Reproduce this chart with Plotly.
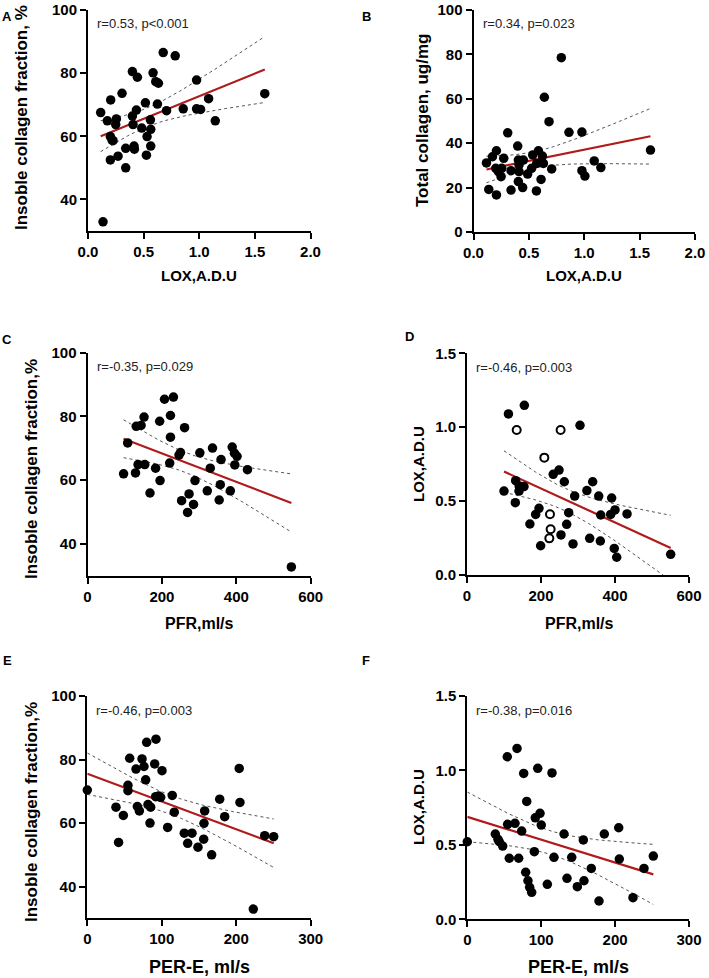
import numpy as np
import plotly.graph_objects as go

# ---- data ----
lox_a = [0.114, 0.135, 0.174, 0.204, 0.201, 0.216, 0.225, 0.201, 0.255, 0.249, 0.270, 0.306, 0.339, 0.339,
         0.399, 0.444, 0.399, 0.435, 0.405, 0.414, 0.417, 0.483, 0.516, 0.531, 0.525, 0.561, 0.564, 0.564,
         0.585, 0.609, 0.633, 0.624, 0.676, 0.706, 0.784, 0.856, 0.976, 0.976, 1.012, 1.084, 1.144, 1.589]
insol_a = [67.5, 32.9, 64.9, 71.5, 59.9, 58.8, 58.6, 52.5, 65.5, 63.7, 53.7, 73.6, 56.2, 50.0,
           80.5, 78.7, 66.4, 68.3, 63.7, 56.9, 55.9, 62.6, 70.6, 59.9, 54.0, 65.2, 62.2, 56.9,
           80.1, 77.3, 76.8, 70.2, 86.5, 68.1, 85.5, 68.7, 77.8, 68.7, 68.5, 71.9, 64.9, 73.5]

lox_b = [0.117, 0.138, 0.207, 0.171, 0.207, 0.201, 0.225, 0.249, 0.255, 0.273, 0.309, 0.339, 0.339, 0.399,
         0.405, 0.411, 0.411, 0.405, 0.444, 0.450, 0.489, 0.525, 0.535, 0.568, 0.571, 0.586, 0.610, 0.631,
         0.622, 0.640, 0.682, 0.706, 0.793, 0.862, 0.979, 0.979, 1.006, 1.090, 1.150, 1.598]
total_b = [31.1, 19.2, 16.7, 33.9, 36.6, 28.7, 27.2, 24.9, 28.7, 33.2, 44.7, 27.6, 18.9, 38.7,
           32.4, 30.2, 27.2, 22.7, 20.0, 32.4, 26.1, 28.7, 34.7, 18.5, 30.9, 36.6, 23.7, 30.9,
           34.2, 60.7, 49.7, 28.4, 78.5, 44.9, 45.0, 27.6, 25.2, 32.0, 29.0, 36.9]

pfr_c = [97, 108, 129, 131, 136, 144, 152, 154, 168, 183, 194, 195, 207, 221, 223, 223, 231, 246, 250, 253,
         261, 269, 273, 285, 289, 302, 322, 330, 336, 354, 357, 359, 384, 389, 395, 402, 396, 430, 548]
insol_c = [62.0, 71.7, 62.3, 76.9, 64.9, 77.2, 79.8, 64.9, 56.0, 63.8, 78.5, 59.9, 85.4, 65.4, 73.5, 80.3,
           86.1, 67.9, 68.7, 53.6, 76.5, 49.9, 55.7, 52.4, 59.9, 68.6, 56.7, 63.8, 70.1, 53.8, 58.6, 66.5,
           56.7, 70.4, 68.5, 67.5, 64.8, 63.3, 32.8]

pfr_d = [100, 112, 155, 131.5, 141, 140.6, 154, 130.6, 170, 185.6, 194.6, 199, 233, 248.7, 263, 254, 269.4,
         274.8, 286.5, 291, 305.4, 324, 331.6, 339.7, 356, 361.4, 360.4, 391, 400, 388.3, 398, 404.6, 432.5, 550.5]
lox_d = [0.568, 1.090, 1.148, 0.638, 0.602, 0.568, 0.598, 0.489, 0.345, 0.410, 0.451, 0.198, 0.681, 0.710,
         0.631, 0.271, 0.343, 0.422, 0.210, 0.534, 1.013, 0.571, 0.248, 0.631, 0.534, 0.406, 0.230, 0.521,
         0.440, 0.410, 0.180, 0.120, 0.413, 0.140]
pfr_d_open = [134.3, 253, 209, 224.3, 226, 222.5]
lox_d_open = [0.981, 0.981, 0.794, 0.411, 0.309, 0.248]

pere_e = [0, 38.5, 42, 48.4, 54.6, 54.6, 56.9, 65.4, 67.2, 69.9, 73.5, 76.1, 78.4, 79.7, 81.5, 85.1, 84.2,
          90.5, 92.2, 91.8, 95.8, 98.5, 100.3, 107.9, 114.1, 116.8, 130.2, 134.8, 140.6, 148.6, 156.3, 156.7,
          157.6, 167, 177.8, 184.5, 204, 205, 238.2, 250.3, 222.9]
insol_e = [70.4, 65.0, 53.9, 62.4, 71.9, 70.2, 80.4, 77.0, 65.2, 63.8, 80.2, 77.8, 73.6, 85.4, 65.8, 65.0,
           60.0, 78.6, 86.4, 68.3, 68.5, 68.1, 76.5, 58.6, 68.7, 63.4, 56.8, 53.6, 56.8, 52.4, 54.9, 59.9,
           63.8, 50.0, 67.5, 62.0, 77.2, 66.5, 56.0, 55.7, 32.9]

pere_f = [0, 37.9, 41.5, 43.3, 47.9, 54.1, 54.6, 56.8, 64.5, 67.3, 69.5, 73.6, 76.3, 79, 80.4, 82.1, 84.4,
          87.1, 90.7, 92, 95.3, 98.4, 100.1, 108.3, 114.6, 117.3, 130.9, 134.9, 141.3, 148.9, 157, 157.9,
          167.8, 178.2, 185.4, 204.9, 205.7, 224.2, 239.1, 251.7]
lox_f = [0.521, 0.573, 0.537, 0.521, 0.492, 1.092, 0.638, 0.410, 0.645, 1.148, 0.410, 0.593, 0.980, 0.316,
         0.792, 0.259, 0.215, 0.181, 0.454, 0.682, 1.014, 0.712, 0.633, 0.235, 0.983, 0.416, 0.573, 0.275,
         0.416, 0.219, 0.533, 0.259, 0.342, 0.123, 0.573, 0.615, 0.405, 0.145, 0.342, 0.425]

stats = ["r=0.53, p<0.001", "r=0.34, p=0.023", "r=-0.35, p=0.029",
         "r=-0.46, p=0.003", "r=-0.46, p=0.003", "r=-0.38, p=0.016"]
letters = ["A", "B", "C", "D", "E", "F"]

lox_ticks = [0, 0.5, 1.0, 1.5, 2.0]
pct_ticks = [40, 60, 80, 100]
tot_ticks = [0, 20, 40, 60, 80, 100]
pfr_ticks = [0, 200, 400, 600]
pere_ticks = [0, 100, 200, 300]
loxy_ticks = [0, 0.5, 1.0, 1.5]

W, H = 709, 978
FONT = "Liberation Sans"
RED = "#b01a1a"


def fit(x, y):
    # least squares line + 95% band of the mean
    x = np.asarray(x, float)
    y = np.asarray(y, float)
    b, a = np.polyfit(x, y, 1)
    xs = np.linspace(x.min(), x.max(), 80)
    yh = a + b * xs
    n = len(x)
    s = np.sqrt(np.sum((y - (a + b * x)) ** 2) / (n - 2))
    se = s * np.sqrt(1 / n + (xs - x.mean()) ** 2 / np.sum((x - x.mean()) ** 2))
    return xs, yh, yh - 2.02 * se, yh + 2.02 * se


def px(x0, x1):
    return [x0 / W, x1 / W]


def py(top, bottom):
    return [1 - bottom / H, 1 - top / H]


def bold(vals, fmt):
    return ["<b>" + format(v, fmt) + "</b>" for v in vals]


# pixel boxes of each plot area (left, right, top, bottom)
boxes = [(88, 310.5, 10, 231), (473.5, 695, 10, 232),
         (87.5, 310.7, 352.7, 575.9), (467, 689, 353.3, 575),
         (87.3, 310.7, 696, 918.3), (467.3, 689, 696, 919.3)]
xranges = [[0, 2], [0, 2], [0, 600], [0, 600], [0, 300], [0, 300]]
yranges = [[30, 100], [0, 100], [30, 100], [0, 1.5], [30, 100], [0, 1.5]]
xticks = [(lox_ticks, ".1f"), (lox_ticks, ".1f"), (pfr_ticks, "d"), (pfr_ticks, "d"),
          (pere_ticks, "d"), (pere_ticks, "d")]
yticks = [(pct_ticks, "d"), (tot_ticks, "d"), (pct_ticks, "d"), (loxy_ticks, ".1f"),
          (pct_ticks, "d"), (loxy_ticks, ".1f")]

panels = [(lox_a, insol_a), (lox_b, total_b), (pfr_c, insol_c),
          (pfr_d, lox_d), (pere_e, insol_e), (pere_f, lox_f)]

fig = go.Figure()

for i, (xv, yv) in enumerate(panels):
    k = "" if i == 0 else str(i + 1)
    xa, ya = "x" + k, "y" + k
    fx, fy = xv, yv
    if i == 3:
        fx = list(xv) + pfr_d_open
        fy = list(yv) + lox_d_open
    xs, yh, lo, hi = fit(fx, fy)
    for band in (lo, hi):
        fig.add_trace(go.Scatter(x=xs, y=band, mode="lines", xaxis=xa, yaxis=ya,
                                 line=dict(color="#555555", width=1, dash="dot"), hoverinfo="skip"))
    fig.add_trace(go.Scatter(x=xs, y=yh, mode="lines", xaxis=xa, yaxis=ya,
                             line=dict(color=RED, width=2.2), hoverinfo="skip"))
    fig.add_trace(go.Scatter(x=xv, y=yv, mode="markers", xaxis=xa, yaxis=ya, cliponaxis=False,
                             marker=dict(color="black", size=9.5, line=dict(width=0))))
    if i == 3:
        fig.add_trace(go.Scatter(x=pfr_d_open, y=lox_d_open, mode="markers", xaxis=xa, yaxis=ya,
                                 cliponaxis=False,
                                 marker=dict(color="white", size=8, line=dict(color="black", width=2))))

    l, r, t, b = boxes[i]
    axis_common = dict(showline=True, linecolor="black", linewidth=2, ticks="outside", ticklen=6,
                       tickwidth=2, tickcolor="black", showgrid=False, zeroline=False,
                       automargin=False, tickfont=dict(family=FONT, size=15, color="black"))
    xt, xf = xticks[i]
    yt, yf = yticks[i]
    fig.update_layout({
        "xaxis" + k: dict(domain=px(l, r), range=xranges[i], tickvals=xt, ticktext=bold(xt, xf),
                          anchor=ya, **axis_common),
        "yaxis" + k: dict(domain=py(t, b), range=yranges[i], tickvals=yt, ticktext=bold(yt, yf),
                          anchor=xa, **axis_common),
    })

    # r / p text
    fig.add_annotation(x=(l + 7) / W, y=1 - (t + 14) / H, xref="paper", yref="paper",
                       text=stats[i], showarrow=False, xanchor="left", yanchor="middle",
                       font=dict(family=FONT, size=13, color="#222222"))

# panel letters
letter_pos = [(7, 16), (366, 16), (7, 339), (409, 337), (7, 660), (366, 660)]
for s, (lx, ly) in zip(letters, letter_pos):
    fig.add_annotation(x=lx / W, y=1 - ly / H, xref="paper", yref="paper", text="<b>%s</b>" % s,
                       showarrow=False, xanchor="center", yanchor="middle",
                       font=dict(family=FONT, size=13, color="black"))

# axis titles
xtitles = [("LOX,A.D.U", 199, 276, 15), ("LOX,A.D.U", 584, 276, 15),
           ("PFR,ml/s", 199, 623, 16), ("PFR,ml/s", 579, 623, 16),
           ("PER-E, ml/s", 199, 967, 18), ("PER-E, ml/s", 578, 967, 18)]
for txt, tx, ty, fs in xtitles:
    fig.add_annotation(x=tx / W, y=1 - ty / H, xref="paper", yref="paper", text="<b>%s</b>" % txt,
                       showarrow=False, xanchor="center", yanchor="middle",
                       font=dict(family=FONT, size=fs, color="black"))

ytitles = [("Insoble collagen fraction, %", 21, 118, 17), ("Total collagen, ug/mg", 423, 121, 17),
           ("Insoble collagen fraction,%", 31, 469, 17), ("LOX,A.D.U", 418, 464, 15),
           ("Insoble collagen fraction,%", 31, 812, 17), ("LOX,A.D.U", 418, 807, 15)]
for txt, tx, ty, fs in ytitles:
    fig.add_annotation(x=tx / W, y=1 - ty / H, xref="paper", yref="paper", text="<b>%s</b>" % txt,
                       showarrow=False, textangle=-90, xanchor="center", yanchor="middle",
                       font=dict(family=FONT, size=fs, color="black"))

fig.update_layout(width=W, height=H, margin=dict(l=0, r=0, t=0, b=0),
                  paper_bgcolor="white", plot_bgcolor="white", showlegend=False)

# page body has an 8px default margin; drop it so the figure sits at the window corner
fig.write_html("out.html", config={"displayModeBar": False},
               post_script="document.body.style.margin='0';")
